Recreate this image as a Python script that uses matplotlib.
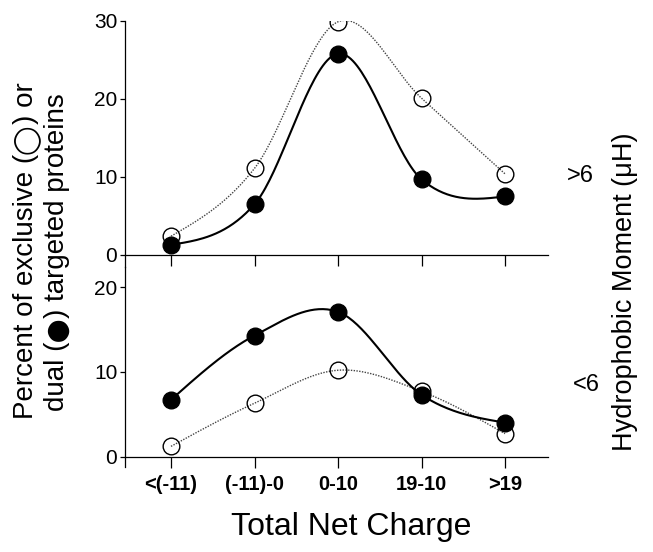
import numpy as np
import matplotlib
matplotlib.use("Agg")
import matplotlib.pyplot as plt
from matplotlib.transforms import IdentityTransform

plt.rcParams['font.family'] = ['Liberation Sans', 'DejaVu Sans']

# ------------------------------
# Data
# ------------------------------
categories = ["<(-11)", "(-11)-0", "0-10", "19-10", ">19"]

# hydrophobic moment > 6
high_exclusive = [2.4, 11.1, 29.9, 20.1, 10.4]
high_dual = [1.3, 6.5, 25.8, 9.7, 7.5]

# hydrophobic moment < 6
low_exclusive = [1.2, 6.3, 10.2, 7.7, 2.7]
low_dual = [6.7, 14.3, 17.1, 7.3, 4.0]


def smooth_curve(x, y, n=40):
    # Catmull-Rom style spline through the points (natural end tangents)
    x = np.asarray(x, float)
    y = np.asarray(y, float)
    k = len(y)
    m = np.zeros(k)
    m[1:-1] = (y[2:] - y[:-2]) / 2
    m[0] = (3 * (y[1] - y[0]) - m[1]) / 2
    m[-1] = (3 * (y[-1] - y[-2]) - m[-2]) / 2
    xs_all, ys_all = [], []
    t = np.linspace(0, 1, n)
    h00 = (1 + 2 * t) * (1 - t) ** 2
    h10 = t * (1 - t) ** 2
    h01 = t ** 2 * (3 - 2 * t)
    h11 = t ** 2 * (t - 1)
    for i in range(k - 1):
        xs_all.append(x[i] + t * (x[i + 1] - x[i]))
        ys_all.append(h00 * y[i] + h10 * m[i] + h01 * y[i + 1] + h11 * m[i + 1])
    return np.concatenate(xs_all), np.concatenate(ys_all)


xpos = np.arange(len(categories))

fig = plt.figure(figsize=(6.53, 5.52), dpi=100)
ax_top = fig.add_axes([125 / 653, 1 - 267 / 552, 423 / 653, 246 / 552])
ax_bot = fig.add_axes([125 / 653, 1 - 467 / 552, 423 / 653, 200 / 552])


def draw_panel(ax, excl, dual, ylim, yticks):
    xs, ys = smooth_curve(xpos, excl)
    ax.plot(xs, ys, linestyle=(0, (1, 1)), color='#444444', linewidth=1.0, zorder=2)
    xs, ys = smooth_curve(xpos, dual)
    ax.plot(xs, ys, color='black', linewidth=1.5, zorder=3)
    ax.plot(xpos, excl, 'o', markersize=12, markerfacecolor='none',
            markeredgecolor='black', markeredgewidth=1.0, zorder=4)
    ax.plot(xpos, dual, 'o', markersize=12, markerfacecolor='black',
            markeredgecolor='black', zorder=5)
    ax.set_xlim(-0.551, 4.515)
    ax.set_ylim(*ylim)
    ax.set_yticks(yticks)
    ax.set_xticks(xpos)
    ax.spines['right'].set_visible(False)
    ax.spines['top'].set_visible(False)
    ax.spines['bottom'].set_position(('data', 0))
    ax.spines['left'].set_linewidth(0.9)
    ax.spines['bottom'].set_linewidth(0.9)
    ax.tick_params(axis='x', direction='out', length=8, width=0.9)
    ax.tick_params(axis='y', direction='out', length=3.5, width=0.9, labelsize=15, pad=2)
    ax.patch.set_alpha(0)
    for sp in ax.spines.values():
        sp.set_clip_on(False)


draw_panel(ax_top, high_exclusive, high_dual, (-1.55, 30), [0, 10, 20, 30])
ax_top.set_xticklabels([])

draw_panel(ax_bot, low_exclusive, low_dual, (-1.24, 22.4), [0, 10, 20])
ax_bot.set_xticklabels(categories, fontsize=14.5, fontweight='bold')
ax_bot.tick_params(axis='x', pad=5)


# ------------------------------
# Rotated y label built from pieces (circle symbols from another font)
# ------------------------------
def vertical_label(x_base, y_center, parts):
    renderer = fig.canvas.get_renderer()
    texts = []
    for s, fs, fam, shift in parts:
        t = fig.text(0, 0, s, rotation=90, rotation_mode='anchor', ha='left',
                     va='baseline', fontsize=fs, family=fam, transform=IdentityTransform())
        texts.append((t, shift))
    lengths = [t.get_window_extent(renderer).height for t, _ in texts]
    y = y_center - sum(lengths) / 2
    for (t, shift), L in zip(texts, lengths):
        t.set_position((x_base + shift, y))
        y += L


LS = ['Liberation Sans']
DV = ['DejaVu Sans']
vertical_label(33, 552 - 250.5, [("Percent of exclusive (", 20, LS, 0),
                                 ("\u25EF", 19, DV, 0),
                                 (") or", 20, LS, 0)])
vertical_label(64, 552 - 252, [("dual (", 20, LS, 0),
                               ("\u2B24", 15, DV, 0),
                               (") targeted proteins", 20, LS, 0)])

fig.text(351 / 653, 1 - 527 / 552, "Total Net Charge", ha='center', va='center', fontsize=23)
fig.text(625 / 653, 1 - 292 / 552, "Hydrophobic Moment (\u03bcH)", rotation=90,
         ha='center', va='center', fontsize=19.5)
fig.text(580 / 653, 1 - 176 / 552, ">6", ha='center', va='center', fontsize=17)
fig.text(586 / 653, 1 - 385 / 552, "<6", ha='center', va='center', fontsize=17)

fig.savefig("out.png", dpi=100)
